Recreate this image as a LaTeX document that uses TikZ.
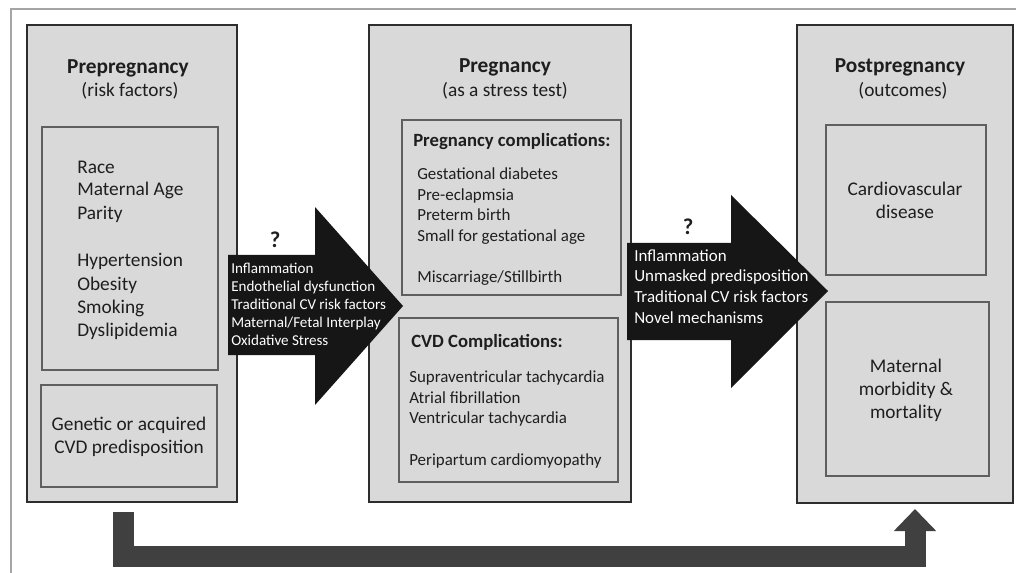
\documentclass[tikz,border=0pt]{standalone}
\usepackage{fontspec}
\setmainfont{Carlito}
\usetikzlibrary{arrows.meta, fit, positioning}
\definecolor{boxfill}{RGB}{217,217,217}
\definecolor{boxedge}{RGB}{45,45,45}
\definecolor{inneredge}{RGB}{95,95,95}
\definecolor{inkdark}{RGB}{30,30,30}
\definecolor{arrowblack}{RGB}{22,22,22}
\definecolor{loopgray}{RGB}{64,64,64}
\definecolor{framegray}{RGB}{165,165,165}

\begin{document}
\begin{tikzpicture}[x=0.75pt, y=-0.75pt,
  outerbox/.style={draw=boxedge, fill=boxfill, line width=2.2pt, inner sep=0pt},
  innerbox/.style={draw=inneredge, fill=boxfill, line width=1.3pt, inner sep=0pt},
  titletext/.style={font=\fontsize{16}{19}\selectfont\bfseries, text=inkdark, inner sep=0pt, anchor=base},
  subtext/.style={font=\fontsize{14.5}{18}\selectfont, text=inkdark, inner sep=0pt, anchor=base},
  listtext/.style={font=\fontsize{14.5}{17.25}\selectfont, text=inkdark, inner sep=0pt, align=left, anchor=base west},
  centertext/.style={listtext, align=center, anchor=base},
  headtext/.style={font=\fontsize{14}{17}\selectfont\bfseries, text=inkdark, inner sep=0pt, anchor=base west},
  itemtext/.style={font=\fontsize{12.7}{15.5}\selectfont, text=inkdark, inner sep=0pt, align=left, anchor=base west},
  qmark/.style={font=\fontsize{17}{20}\selectfont\bfseries, text=inkdark, inner sep=0pt, anchor=base},
  mechtext/.style={text=white, inner sep=0pt, align=left, anchor=base west}]

  \useasboundingbox (0,0) rectangle (1016,573);

  %--- frame ---
  \draw[framegray, line width=1.5pt](11,573)--(11,9)--(1016,9);

  %--- the three stages ---
  \node[outerbox, fit={(27,25) (237,502)}] (pre) {};
  \node[outerbox, fit={(369,25) (631,502)}] (preg) {};
  \node[outerbox, fit={(797,25) (1013,503)}] (post) {};

  %--- inner boxes ---
  \node[innerbox, fit={(42,127) (218,370)}] (riskbox) {};
  \node[innerbox, fit={(41,385) (217,487)}] (genebox) {};
  \node[innerbox, fit={(402,120) (621,295)}] (compbox) {};
  \node[innerbox, fit={(399,318) (618,482)}] (cvdbox) {};
  \node[innerbox, fit={(826,125) (986,275)}] (cvbox) {};
  \node[innerbox, fit={(826,302) (989,476)}] (mmbox) {};

  %--- titles ---
  \node[titletext] (pretitle) at (128,74) {Prepregnancy};
  \node[subtext] (presub) at (130,97) {(risk factors)};
  \node[titletext] (pregtitle) at (505,73) {Pregnancy};
  \node[subtext] (pregsub) at (505,97) {(as a stress test)};
  \node[titletext] (posttitle) at (900,73) {Postpregnancy};
  \node[subtext] (postsub) at (903,97) {(outcomes)};

  %--- prepregnancy contents (anchored on the last line) ---
  \node[listtext] (risklist) at (77,336)
    {Race\\Maternal Age\\Parity\\[18.75pt]Hypertension\\Obesity\\Smoking\\Dyslipidemia};
  \node[centertext] (genetext) at (129,453) {Genetic or acquired\\CVD predisposition};

  %--- pregnancy contents ---
  \node[headtext] (comphead) at (413,147) {Pregnancy complications:};
  \node[itemtext] (complist) at (417,283)
    {Gestational diabetes\\Pre-eclapmsia\\Preterm birth\\Small for gestational age\\[15.5pt]Miscarriage/Stillbirth};
  \node[headtext] (cvdhead) at (411,347) {CVD Complications:};
  \node[itemtext] (cvdlist) at (409,465)
    {Supraventricular tachycardia\\Atrial fibrillation\\Ventricular tachycardia\\[15.5pt]Peripartum cardiomyopathy};

  %--- postpregnancy contents ---
  \node[centertext] (cvtext) at (905,219) {Cardiovascular\\disease};
  \node[centertext] (mmtext) at (906,418) {Maternal\\morbidity \&\\mortality};

  %--- arrow: prepregnancy to pregnancy ---
  \fill[arrowblack](228,255)--(315,255)--(315,207)--(403,306)--(315,405)--(315,355)--(228,355)--cycle;
  \node[qmark] (q1) at (275,248) {?};
  \node[mechtext, font=\fontsize{11.3}{13.5}\selectfont] (mech1) at (231,345)
    {Inflammation\\Endothelial dysfunction\\Traditional CV risk factors\\Maternal/Fetal Interplay\\Oxidative Stress};

  %--- arrow: pregnancy to postpregnancy ---
  \fill[arrowblack](627,243)--(731,243)--(731,195)--(828,291)--(731,388)--(731,340)--(627,340)--cycle;
  \node[qmark] (q2) at (688,235) {?};
  \node[mechtext, font=\fontsize{12.7}{15.4}\selectfont] (mech2) at (634,323)
    {Inflammation\\Unmasked predisposition\\Traditional CV risk factors\\Novel mechanisms};

  %--- long-term arrow below ---
  \coordinate (loopstart) at (123,512);
  \coordinate (loopend) at (915,509);
  \draw[loopgray, line width=15.75pt, line join=miter, -{Triangle[width=30.75pt, length=16.5pt]}]
    (loopstart)--++(0,44)-|(loopend);
\end{tikzpicture}
\end{document}
